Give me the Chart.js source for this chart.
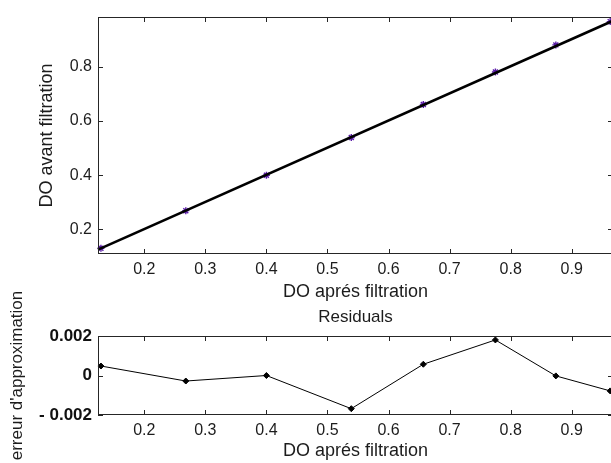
<!DOCTYPE html>
<html>
<head>
<meta charset="utf-8">
<title>DO avant / après filtration</title>
<script src="https://cdn.jsdelivr.net/npm/chart.js@4.4.1/dist/chart.umd.min.js"></script>
<style>
  html, body { margin: 0; padding: 0; background: #fff; overflow: hidden; width: 611px; height: 463px; }
  canvas { position: absolute; left: 0; display: block; }
  #fitChart { top: 0; }
  #residChart { top: 270px; }
</style>
</head>
<body>
<canvas id="fitChart" width="613" height="305"></canvas>
<canvas id="residChart" width="613" height="193"></canvas>
<script>
// measured points: DO after filtration (x) vs DO before filtration (y)
const doApres = [0.129, 0.268, 0.400, 0.539, 0.657, 0.775, 0.874, 0.963];
const doAvant = [0.130, 0.269, 0.400, 0.539, 0.661, 0.781, 0.881, 0.967];

// fitted straight line, ends of the axis range
const fitX = [0.1242, 0.9676];
const fitY = [0.125, 0.970];

// residuals of the fit at each measured point
const residuals = [0.00048, -0.00028, 0.0, -0.00168, 0.00057, 0.0018, -0.00002, -0.00078];

// tick values
const xTicks = [0.2, 0.3, 0.4, 0.5, 0.6, 0.7, 0.8, 0.9];
const yTicksFit = [0.2, 0.4, 0.6, 0.8];
const yTicksResid = [-0.002, 0, 0.002];

const FONT = "'Liberation Sans', Arial, Helvetica, sans-serif";
const TEXT = '#1c1c1c';

// box around the plot area with ticks pointing inwards on all four sides
const innerTicks = {
    id: 'innerTicks',
    afterDatasetsDraw(chart) {
        const { ctx, chartArea: a, scales } = chart;
        const len = 5;
        ctx.save();
        ctx.strokeStyle = '#262626';
        ctx.lineWidth = 1;
        ctx.strokeRect(a.left + 0.5, a.top + 0.5, a.right - a.left - 1, a.bottom - a.top - 1);
        ctx.beginPath();
        scales.x.ticks.forEach(t => {
            const px = Math.round(scales.x.getPixelForValue(t.value)) + 0.5;
            ctx.moveTo(px, a.bottom); ctx.lineTo(px, a.bottom - len);
            ctx.moveTo(px, a.top); ctx.lineTo(px, a.top + len);
        });
        scales.y.ticks.forEach(t => {
            const py = Math.round(scales.y.getPixelForValue(t.value)) + 0.5;
            ctx.moveTo(a.left, py); ctx.lineTo(a.left + len, py);
            ctx.moveTo(a.right, py); ctx.lineTo(a.right - len, py);
        });
        ctx.stroke();
        ctx.restore();
    }
};

function xScale(min, max, titlePadBottom, axisHeight) {
    return {
        type: 'linear',
        min: min,
        max: max,
        afterBuildTicks: s => { s.ticks = xTicks.map(v => ({ value: v })); },
        afterFit: s => { s.height = axisHeight; },
        grid: { display: false, drawTicks: false },
        border: { display: false },
        ticks: {
            color: TEXT,
            padding: 6,
            maxRotation: 0,
            autoSkip: false,
            font: { family: FONT, size: 16 },
            callback: v => String(v)
        },
        title: {
            display: true,
            text: 'DO aprés filtration',
            color: TEXT,
            font: { family: FONT, size: 18 },
            padding: { top: 0, bottom: titlePadBottom }
        }
    };
}

// upper plot: points and fitted line
new Chart(document.getElementById('fitChart'), {
    type: 'scatter',
    data: {
        datasets: [
            {
                label: 'fit',
                data: fitX.map((x, i) => ({ x: x, y: fitY[i] })),
                showLine: true,
                borderColor: '#000',
                borderWidth: 2.6,
                pointRadius: 0,
                order: 1
            },
            {
                label: 'DO',
                data: doApres.map((x, i) => ({ x: x, y: doAvant[i] })),
                pointStyle: 'star',
                pointRadius: 3.5,
                borderColor: '#5a1ca8',
                backgroundColor: '#5a1ca8',
                pointBorderWidth: 1.4,
                order: 2
            }
        ]
    },
    options: {
        responsive: false,
        animation: false,
        clip: false,
        layout: { autoPadding: false, padding: { top: 17, left: 0, right: 0, bottom: 0 } },
        plugins: { legend: { display: false }, tooltip: { enabled: false } },
        scales: {
            x: xScale(0.1242, 0.9676, 2.2, 51),
            y: {
                type: 'linear',
                min: 0.109,
                max: 0.984,
                afterBuildTicks: s => { s.ticks = yTicksFit.map(v => ({ value: v })); },
                afterFit: s => { s.width = 98; },
                grid: { display: false, drawTicks: false },
                border: { display: false },
                ticks: {
                    color: TEXT,
                    padding: 6,
                    font: { family: FONT, size: 16 },
                    callback: v => String(v)
                },
                title: {
                    display: true,
                    text: 'DO avant filtration',
                    color: TEXT,
                    font: { family: FONT, size: 18 },
                    padding: { top: 36.2, bottom: 0 }
                }
            }
        }
    },
    plugins: [innerTicks]
});

// lower plot: residuals
new Chart(document.getElementById('residChart'), {
    type: 'line',
    data: {
        datasets: [{
            label: 'Residuals',
            data: doApres.map((x, i) => ({ x: x, y: residuals[i] })),
            borderColor: '#000',
            borderWidth: 1,
            pointStyle: 'rectRot',
            pointRadius: 3,
            pointBackgroundColor: '#000',
            pointBorderColor: '#000',
            tension: 0
        }]
    },
    options: {
        responsive: false,
        animation: false,
        clip: false,
        layout: { autoPadding: false, padding: { top: 0, left: 0, right: 0, bottom: 0 } },
        plugins: {
            legend: { display: false },
            tooltip: { enabled: false },
            title: {
                display: true,
                text: 'Residuals',
                fullSize: false,
                color: TEXT,
                font: { family: FONT, size: 17, weight: 'normal' },
                padding: { top: 36.8, bottom: 8.8 }
            }
        },
        scales: {
            x: xScale(0.1242, 0.9676, 1.2, 48),
            y: {
                type: 'linear',
                min: -0.002,
                max: 0.002,
                afterBuildTicks: s => { s.ticks = yTicksResid.map(v => ({ value: v })); },
                afterFit: s => { s.width = 98; },
                grid: { display: false, drawTicks: false },
                border: { display: false },
                ticks: {
                    color: '#111',
                    padding: 6,
                    font: { family: FONT, size: 17, weight: 'bold' },
                    callback: v => v < 0 ? '- ' + Math.abs(v) : String(v)
                },
                title: {
                    display: true,
                    text: "erreur d'approximation",
                    color: TEXT,
                    font: { family: FONT, size: 17 },
                    padding: { top: 6.8, bottom: 0 }
                }
            }
        }
    },
    plugins: [innerTicks]
});
</script>
</body>
</html>
